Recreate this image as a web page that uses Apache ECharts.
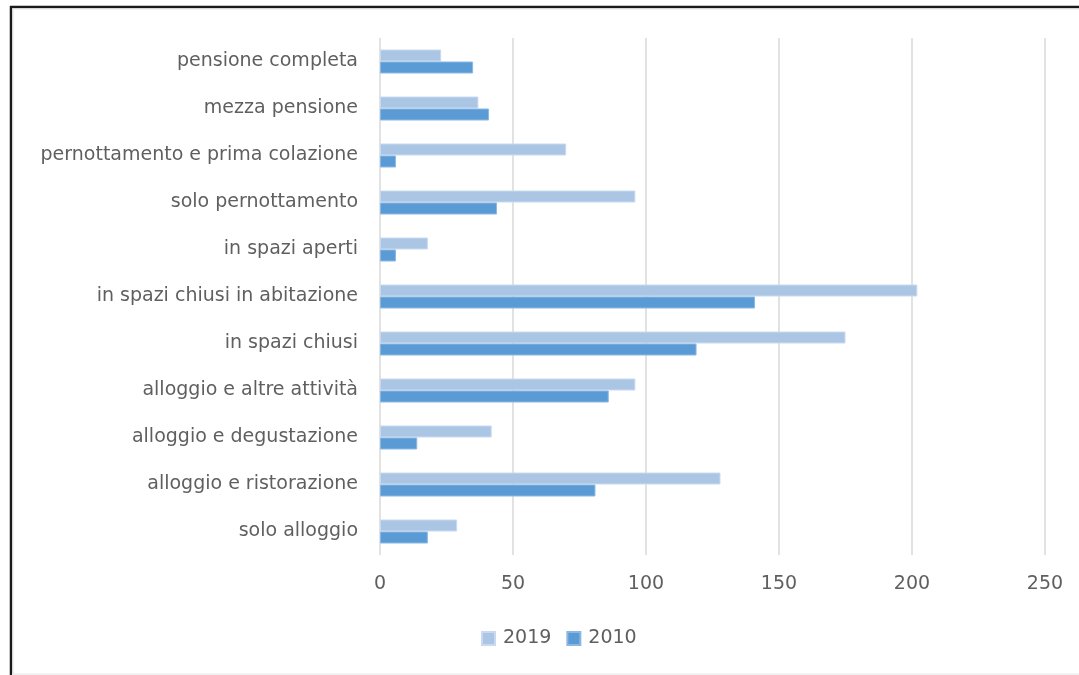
<!DOCTYPE html>
<html>
<head>
<meta charset="utf-8">
<script src="https://cdn.jsdelivr.net/npm/echarts@6/dist/echarts.min.js"></script>
<style>
  html, body { margin: 0; padding: 0; background: #fff; }
  #chart { width: 1079px; height: 675px; }
</style>
</head>
<body>
<div id="chart"></div>
<script>
// Categories, top to bottom
const categories = [
  'pensione completa',
  'mezza pensione',
  'pernottamento e prima colazione',
  'solo pernottamento',
  'in spazi aperti',
  'in spazi chiusi in abitazione',
  'in spazi chiusi',
  'alloggio e altre attività',
  'alloggio e degustazione',
  'alloggio e ristorazione',
  'solo alloggio'
];
const values2019 = [23, 37, 70, 96, 18, 202, 175, 96, 42, 128, 29];
const values2010 = [35, 41, 6, 44, 6, 141, 119, 86, 14, 81, 18];
const xTicks = [0, 50, 100, 150, 200, 250];

const textColor = '#5f5f5f';
const fontFamily = 'DejaVu Sans, sans-serif';

const chart = echarts.init(document.getElementById('chart'), null, { renderer: 'canvas' });

chart.setOption({
  animation: false,
  backgroundColor: '#ffffff',
  grid: { left: 380, right: 34, top: 38, bottom: 120, containLabel: false },
  legend: {
    left: 476, top: 624,
    itemWidth: 13, itemHeight: 13, itemGap: 15,
    icon: 'rect',
    textStyle: { color: textColor, fontSize: 19, fontFamily: fontFamily, padding: [0, 0, 0, 3] },
    data: ['2019', '2010']
  },
  xAxis: {
    type: 'value',
    min: xTicks[0], max: xTicks[xTicks.length - 1], interval: 50,
    axisLine: { show: false },
    axisTick: { show: false },
    axisLabel: { color: textColor, fontSize: 19, fontFamily: fontFamily, margin: 20 },
    splitLine: { show: true, lineStyle: { color: '#d9d9d9', width: 1.5 } }
  },
  yAxis: {
    type: 'category',
    inverse: true,
    data: categories,
    axisLine: { show: false },
    axisTick: { show: false },
    axisLabel: { color: textColor, fontSize: 19, fontFamily: fontFamily, margin: 22 }
  },
  series: [
    {
      name: '2019', type: 'bar', data: values2019,
      barWidth: 12, barGap: '0%',
      itemStyle: { color: '#abc5e5', borderColor: '#c9daf0', borderWidth: 1 }
    },
    {
      name: '2010', type: 'bar', data: values2010,
      barWidth: 12, barGap: '0%',
      itemStyle: { color: '#5b9bd5', borderColor: '#8ab8e3', borderWidth: 1 }
    }
  ],
  graphic: [
    // outer frame of the figure
    { type: 'line', shape: { x1: 10, y1: 7, x2: 1079, y2: 7 }, style: { stroke: '#1a1a1a', lineWidth: 2.5 } },
    { type: 'line', shape: { x1: 11, y1: 6, x2: 11, y2: 675 }, style: { stroke: '#1a1a1a', lineWidth: 2.5 } },
    { type: 'line', shape: { x1: 12, y1: 9, x2: 1079, y2: 9 }, style: { stroke: '#e6e6e6', lineWidth: 1 } },
    { type: 'line', shape: { x1: 13, y1: 9, x2: 13, y2: 675 }, style: { stroke: '#e6e6e6', lineWidth: 1 } },
    { type: 'line', shape: { x1: 12, y1: 674, x2: 1079, y2: 674 }, style: { stroke: '#eeeeee', lineWidth: 1.5 } }
  ]
});
</script>
</body>
</html>
